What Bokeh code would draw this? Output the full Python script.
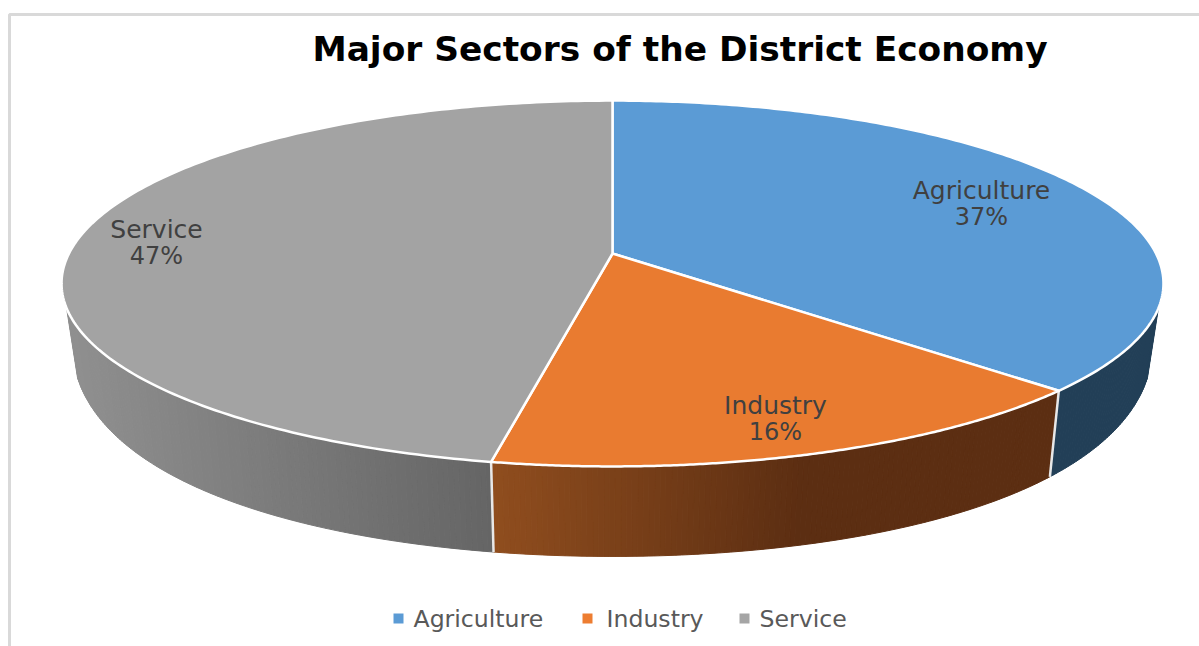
import numpy as np
from bokeh.plotting import figure
from bokeh.models import Range1d
from bokeh.core.properties import value
from bokeh.embed import file_html
from bokeh.resources import INLINE

TITLE = "Major Sectors of the District Economy"
categories = ["Agriculture", "Industry", "Service"]
shares = [37, 16, 47]
top_colors = ["#5b9bd5", "#e97b30", "#a3a3a3"]
legend_colors = ["#5b9bd5", "#ed7d31", "#a5a5a5"]
label_x = [981, 775, 156]
label_y = [190, 405, 229]
legend_sq_x = [398, 587, 744]
legend_txt_x = [413, 606, 759]

TEXT_FONT = "DejaVu Sans"
TEXT_COLOR = "#404040"

W, H = 1199, 646
p = figure(width=W, height=H, output_backend="svg", toolbar_location=None,
           x_range=Range1d(0, W), y_range=Range1d(H, 0),
           x_axis_location=None, y_axis_location=None, min_border=0,
           outline_line_color=None, background_fill_color="white")
p.xgrid.visible = False
p.ygrid.visible = False

# perspective projection of a circle (clockwise angle in degrees from the top)
CX, CY, SX, SY, K = 612.0, 253.0, 543.5, 178.0, 0.164


def rim(deg):
    t = np.radians(deg)
    u, v = np.sin(t), np.cos(t)
    w = 1 + K * v
    return CX + SX * u / w, CY - SY * v / w


def lower(x, y):
    xl = CX + (x - CX) * 0.98
    yl = 380 + 1.2 * (y - 310) - 0.000942 * (y - 310) * (y - 390)
    return xl, yl


def lerp_hex(a, b, f):
    f = min(1.0, max(0.0, f))
    ca = [int(a[i:i + 2], 16) for i in (1, 3, 5)]
    cb = [int(b[i:i + 2], 16) for i in (1, 3, 5)]
    return "#%02x%02x%02x" % tuple(round(s + (e - s) * f) for s, e in zip(ca, cb))


def wall_color(i, x):
    if i == 0:
        return "#223f57"
    if i == 1:
        return lerp_hex("#8f4d1e", "#5c2e12", (x - 495) / 305)
    return lerp_hex("#656565", "#8f8f8f", (490 - x) / 420)


edges = np.cumsum([0] + shares) * 3.6
WALL_START, WALL_END = 107.0, 253.0

# side wall, built of narrow strips for the shading
xs, ys, cols = [], [], []
for i in range(3):
    a0 = max(edges[i], WALL_START)
    a1 = min(edges[i + 1], WALL_END)
    n = max(2, int((a1 - a0) * 2))
    ang = np.linspace(a0, a1, n + 1)
    for s, e in zip(ang[:-1], ang[1:]):
        x0, y0 = rim(s)
        x1, y1 = rim(e)
        x0l, y0l = lower(x0, y0)
        x1l, y1l = lower(x1, y1)
        xs.append([x0, x1, x1l, x0l])
        ys.append([y0, y1, y1l, y0l])
        cols.append(wall_color(i, (x0 + x1) / 2))
p.patches(xs, ys, fill_color=cols, line_color=cols, line_width=1)

# seams of the wall
for a in edges[1:3]:
    x, y = rim(a)
    xl, yl = lower(x, y)
    p.line([x, xl], [y, yl], line_color="#e8e8e8", line_width=2.5)

# top face
tx, ty = [], []
for i in range(3):
    ang = np.linspace(edges[i], edges[i + 1], 200)
    rx, ry = rim(ang)
    tx.append([CX] + list(rx))
    ty.append([CY] + list(ry))
p.patches(tx, ty, fill_color=top_colors, line_color="white", line_width=2.5, line_join="round")

# slice labels
for name, share, lx, ly in zip(categories, shares, label_x, label_y):
    p.text([lx], [ly], text=[name], text_font=value(TEXT_FONT), text_font_size="25px",
           text_color=TEXT_COLOR, text_align="center", text_baseline="middle")
    p.text([lx], [ly + 26], text=[f"{share}%"], text_font=value(TEXT_FONT), text_font_size="24px",
           text_color=TEXT_COLOR, text_align="center", text_baseline="middle")

# title
p.text([679.5], [48], text=[TITLE], text_font=value("DejaVu Sans"), text_font_size="34.4px",
       text_font_style="bold", text_color="#000000", text_align="center", text_baseline="middle")

# legend
p.scatter(legend_sq_x, [618] * 3, marker="square", size=10, fill_color=legend_colors, line_color=None)
p.text(legend_txt_x, [618] * 3, text=categories, text_font=value(TEXT_FONT), text_font_size="23.6px",
       text_color="#595959", text_align="left", text_baseline="middle")

# chart frame
p.line([9, 9, W], [H, 14, 14], line_color="#d9d9d9", line_width=3)

open("out.html", "w").write(file_html(p, INLINE))
